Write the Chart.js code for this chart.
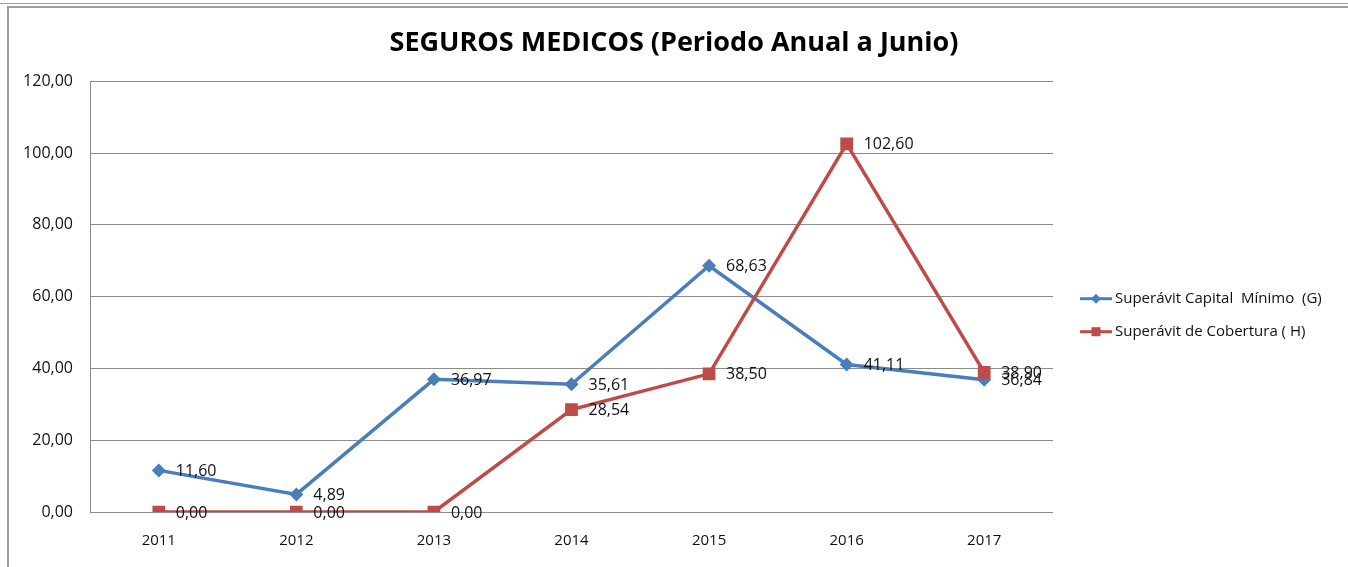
<!DOCTYPE html>
<html>
<head>
<meta charset="utf-8">
<script src="https://cdn.jsdelivr.net/npm/chart.js@4.4.1/dist/chart.umd.min.js"></script>
<style>
  html, body { margin: 0; padding: 0; background: #fff; }
  #wrap { position: relative; width: 1348px; height: 567px; overflow: hidden; }
  #chart { position: absolute; left: 0; top: 0; }
  .rule { position: absolute; background: #9c9c9c; }
</style>
</head>
<body>
<div id="wrap">
  <canvas id="chart" width="1348" height="567"></canvas>
  <div class="rule" style="left:0;top:3px;width:1348px;height:1px"></div>
  <div class="rule" style="left:7px;top:6px;width:1341px;height:2px"></div>
  <div class="rule" style="left:7px;top:6px;width:2px;height:561px"></div>
</div>
<script>
const chartTitle = 'SEGUROS MEDICOS (Periodo Anual a Junio)';
const years = ['2011', '2012', '2013', '2014', '2015', '2016', '2017'];
const capitalMinimo = [11.60, 4.89, 36.97, 35.61, 68.63, 41.11, 36.84];
const cobertura = [0.00, 0.00, 0.00, 28.54, 38.50, 102.60, 38.90];
const seriesNames = ['Superávit Capital  Mínimo  (G)', 'Superávit de Cobertura ( H)'];

const BLUE = '#4a7ebb';
const RED = '#be4b48';
const FONT = '"Open Sans", "DejaVu Sans", sans-serif';

function fmt(v) {
    return v.toFixed(2).replace('.', ',');
}

// etiquetas de valor a la derecha de cada punto
const valueLabels = {
    id: 'valueLabels',
    afterDatasetsDraw(chart) {
        const ctx = chart.ctx;
        ctx.save();
        ctx.font = '16px ' + FONT;
        ctx.fillStyle = '#111';
        ctx.textBaseline = 'middle';
        chart.data.datasets.forEach((ds, i) => {
            chart.getDatasetMeta(i).data.forEach((pt, j) => {
                ctx.fillText(fmt(ds.data[j]), pt.x + 17, pt.y + 1);
            });
        });
        ctx.restore();
    }
};

// leyenda al estilo Excel: linea con marcador
const sideLegend = {
    id: 'sideLegend',
    afterDraw(chart) {
        const ctx = chart.ctx;
        const area = chart.chartArea;
        const x0 = area.right + 27;
        const y0 = (area.top + area.bottom) / 2 + 2;
        ctx.save();
        ctx.font = '15px ' + FONT;
        ctx.textBaseline = 'middle';
        chart.data.datasets.forEach((ds, i) => {
            const y = y0 + i * 33;
            ctx.strokeStyle = ds.borderColor;
            ctx.lineWidth = 3;
            ctx.beginPath();
            ctx.moveTo(x0, y);
            ctx.lineTo(x0 + 32, y);
            ctx.stroke();
            ctx.fillStyle = ds.borderColor;
            ctx.beginPath();
            if (ds.pointStyle === 'rectRot') {
                ctx.moveTo(x0 + 16, y - 5);
                ctx.lineTo(x0 + 21, y);
                ctx.lineTo(x0 + 16, y + 5);
                ctx.lineTo(x0 + 11, y);
                ctx.closePath();
            } else {
                ctx.rect(x0 + 11.5, y - 4.5, 9, 9);
            }
            ctx.fill();
            ctx.fillStyle = '#111';
            ctx.fillText(ds.label, x0 + 35, y);
        });
        ctx.restore();
    }
};

const ctx = document.getElementById('chart').getContext('2d');
new Chart(ctx, {
    type: 'line',
    data: {
        labels: years,
        datasets: [
            {
                label: seriesNames[0],
                data: capitalMinimo,
                borderColor: BLUE,
                backgroundColor: BLUE,
                borderWidth: 3.5,
                pointStyle: 'rectRot',
                pointRadius: 7,
                pointBorderWidth: 0,
                tension: 0,
                fill: false,
                order: 1
            },
            {
                label: seriesNames[1],
                data: cobertura,
                borderColor: RED,
                backgroundColor: RED,
                borderWidth: 3.5,
                pointStyle: 'rect',
                pointRadius: 9,
                pointBorderWidth: 0,
                tension: 0,
                fill: false,
                order: 0
            }
        ]
    },
    options: {
        responsive: false,
        animation: false,
        devicePixelRatio: 1,
        layout: {
            padding: 0
        },
        plugins: {
            legend: { display: false },
            tooltip: { enabled: false },
            title: {
                display: true,
                text: chartTitle,
                color: '#000',
                font: { family: FONT, size: 27, weight: 'bold' },
                padding: { top: 27, bottom: 22 }
            }
        },
        scales: {
            x: {
                offset: true,
                grid: { display: false, drawTicks: false },
                border: { display: false },
                ticks: {
                    color: '#111',
                    font: { family: FONT, size: 15 },
                    padding: 20
                },
                afterFit: scale => { scale.width = scale.width; scale.height = 55; }
            },
            y: {
                min: 0,
                max: 120,
                grid: { color: '#8c8c8c', lineWidth: 1, drawTicks: false },
                border: { display: true, color: '#8c8c8c', width: 1 },
                ticks: {
                    stepSize: 20,
                    color: '#111',
                    font: { family: FONT, size: 16 },
                    padding: 17,
                    callback: v => fmt(v)
                },
                afterFit: scale => { scale.width = 90; }
            },
            // eje vacio que reserva el hueco de la leyenda
            legendSpace: {
                type: 'linear',
                position: 'right',
                min: 0,
                max: 120,
                grid: { display: false, drawTicks: false },
                border: { display: false },
                ticks: { display: false },
                afterFit: scale => { scale.width = 295; }
            }
        }
    },
    plugins: [valueLabels, sideLegend]
});
</script>
</body>
</html>
